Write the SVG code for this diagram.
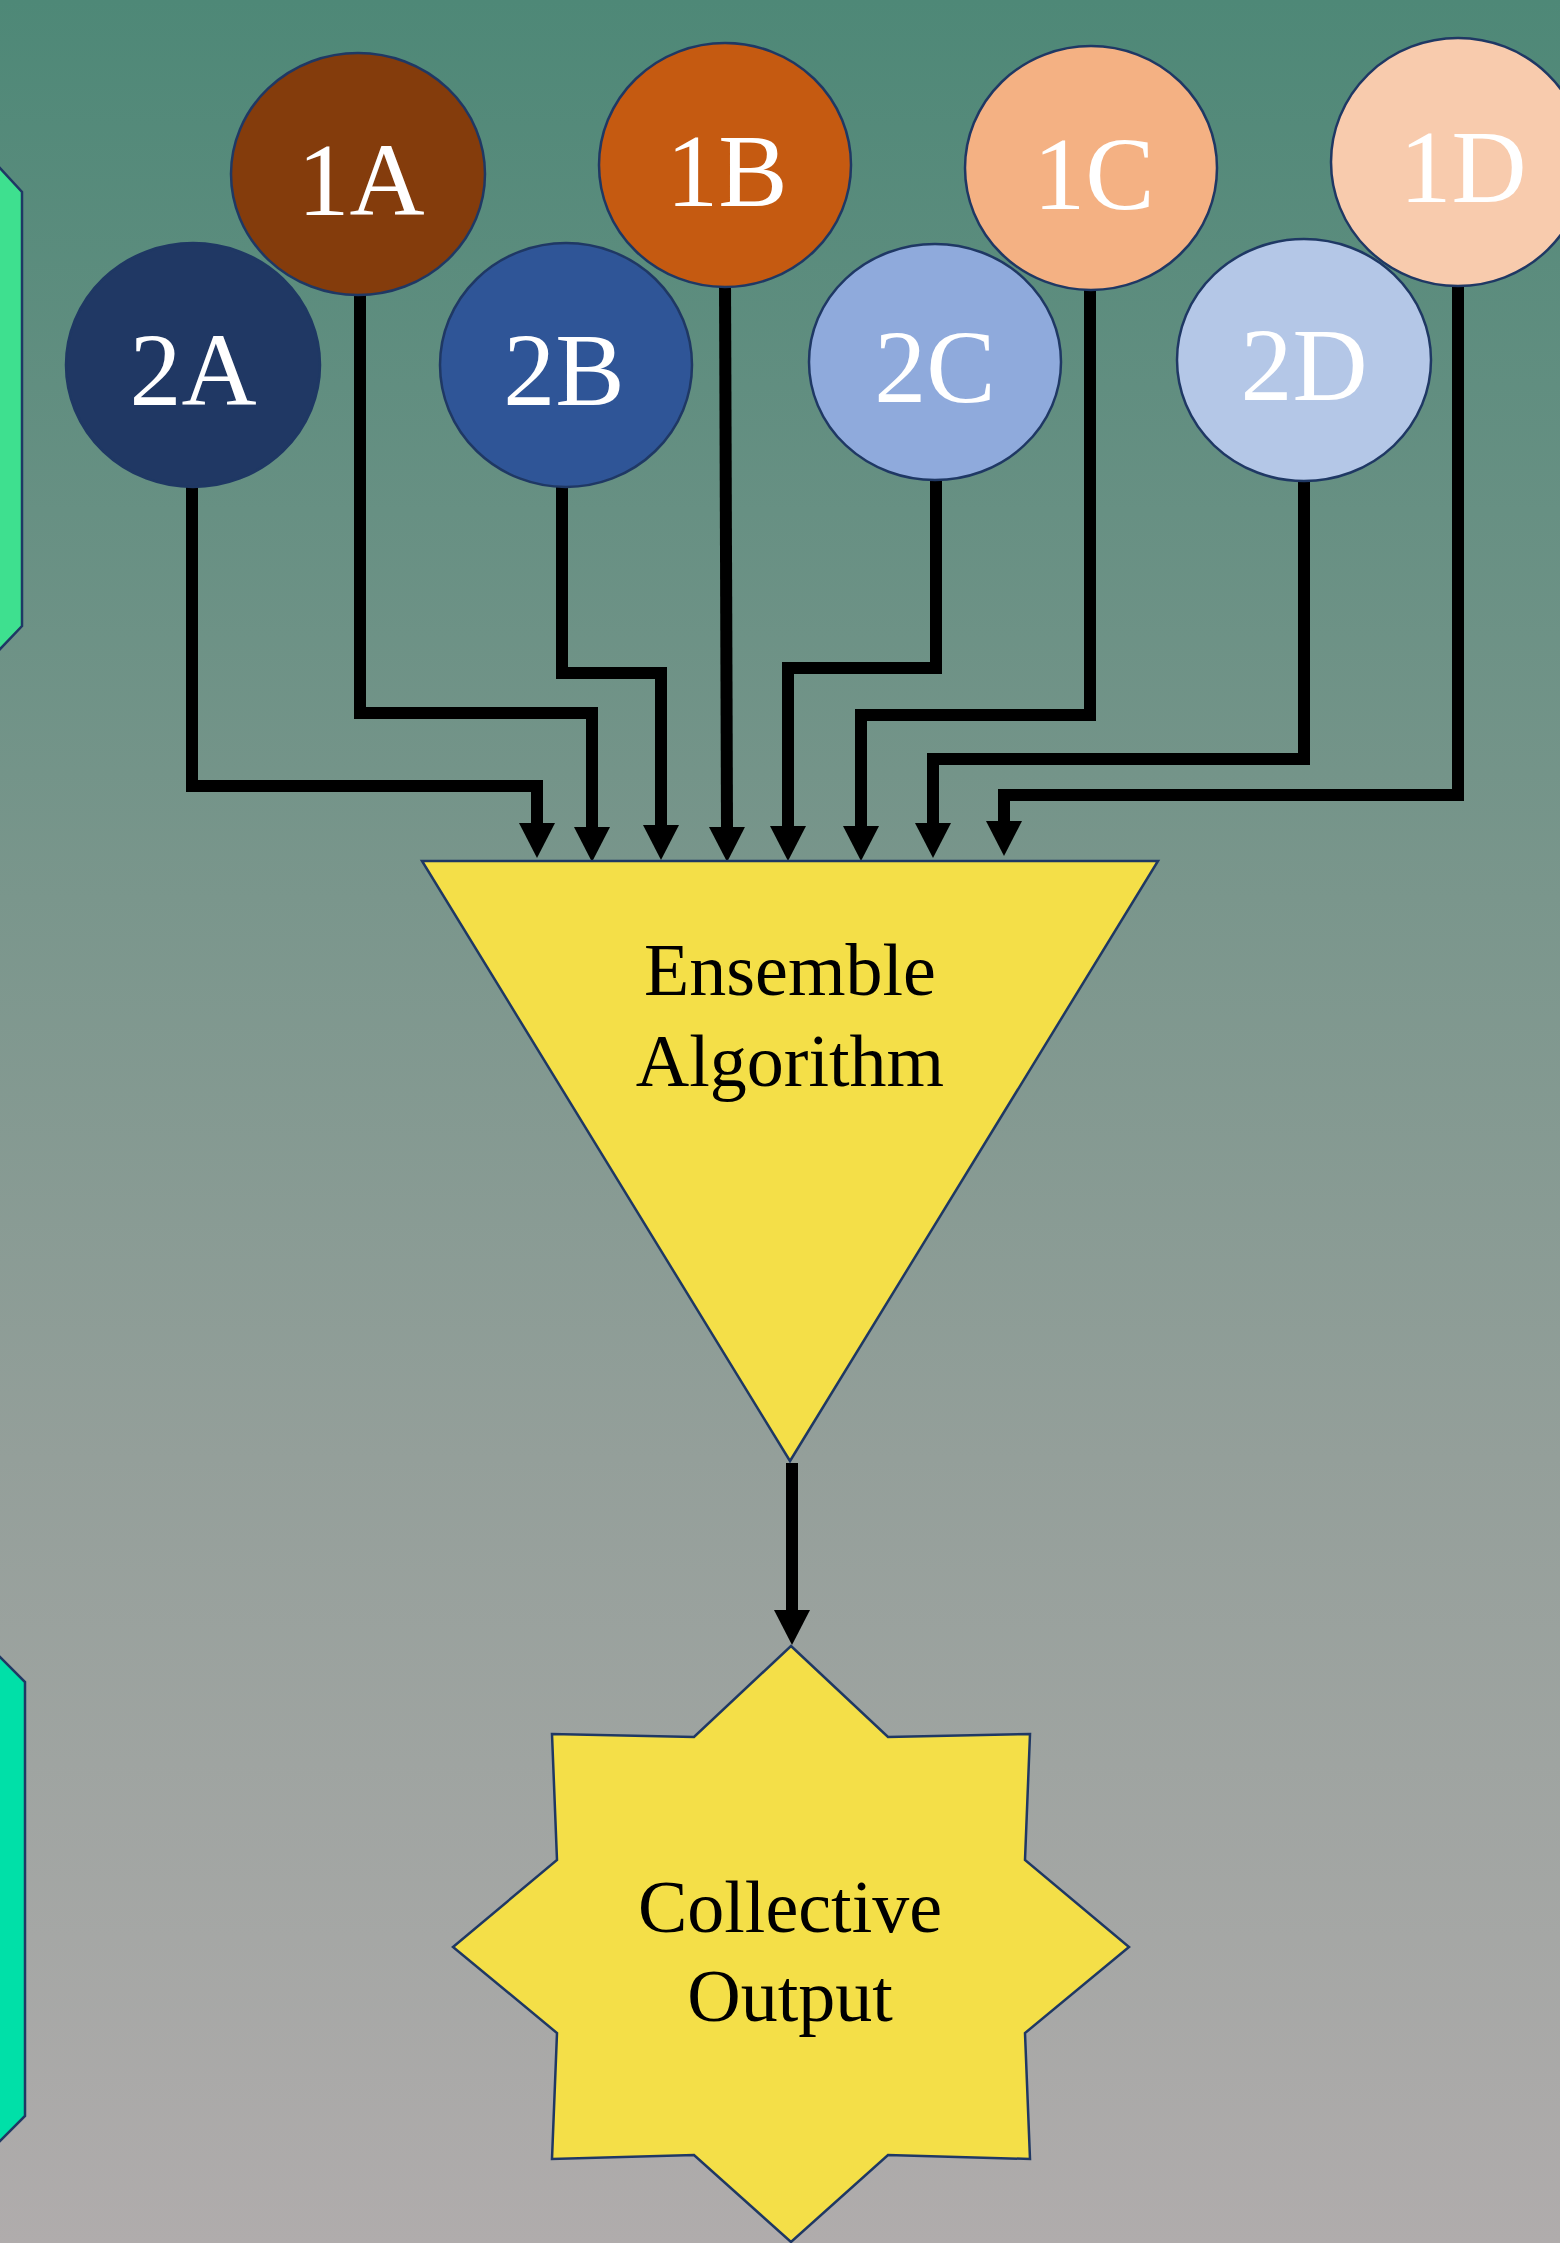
<svg xmlns="http://www.w3.org/2000/svg" width="1560" height="2243" viewBox="0 0 1560 2243">
  <defs>
    <linearGradient id="bg" x1="0" y1="0" x2="0" y2="1">
      <stop offset="0" stop-color="#4e8877"/>
      <stop offset="0.4" stop-color="#7a968c"/>
      <stop offset="0.65" stop-color="#949f9a"/>
      <stop offset="1" stop-color="#b0acac"/>
    </linearGradient>
    <marker id="arrow" markerUnits="userSpaceOnUse" markerWidth="36" markerHeight="36" refX="0" refY="18" orient="auto" viewBox="0 0 36 36">
      <path d="M0,0 L35,18 L0,36 Z" fill="#000"/>
    </marker>
    <style>
      .node { stroke: #1f3864; stroke-width: 2.5; }
      .lbl { font-family: "Liberation Serif", "Times New Roman", serif; font-size: 104px; fill: #ffffff; text-anchor: middle; }
      .txt { font-family: "Liberation Serif", "Times New Roman", serif; font-size: 74px; fill: #000000; text-anchor: middle; }
      .conn { fill: none; stroke: #000; stroke-width: 12; stroke-linejoin: miter; marker-end: url(#arrow); }
      .side { stroke: #1f3864; stroke-width: 2.5; }
    </style>
  </defs>

  <!-- backdrop -->
  <rect x="0" y="0" width="1560" height="2243" fill="url(#bg)"/>

  <!-- side panels, cut by the left border -->
  <polygon class="side" points="-38,127 22,192 22,626 -38,689" fill="#3ee08f"/>
  <polygon class="side" points="-40,1617 25,1682 25,2116 -40,2181" fill="#00e0a8"/>

  <!-- connectors -->
  <g id="connectors">
    <polyline class="conn" points="192,480 192,786 537,786 537,823"/>
    <polyline class="conn" points="360,290 360,713 592,713 592,827"/>
    <polyline class="conn" points="562,480 562,673 661,673 661,825"/>
    <polyline class="conn" points="725,280 727,827"/>
    <polyline class="conn" points="936,475 936,668 788,668 788,826"/>
    <polyline class="conn" points="1090,285 1090,715 861,715 861,826"/>
    <polyline class="conn" points="1304,475 1304,759 933,759 933,823"/>
    <polyline class="conn" points="1458,280 1458,795 1004,795 1004,821"/>
    <polyline class="conn" points="792,1463 792,1610"/>
  </g>

  <!-- first-level models -->
  <g id="n1A">
    <ellipse class="node" cx="358" cy="174" rx="127" ry="121" fill="#843c0c"/>
    <text class="lbl" x="361" y="215">1A</text>
  </g>
  <g id="n1B">
    <ellipse class="node" cx="725" cy="165" rx="126" ry="122" fill="#c55a11"/>
    <text class="lbl" x="727" y="206">1B</text>
  </g>
  <g id="n1C">
    <ellipse class="node" cx="1091" cy="168" rx="126" ry="122" fill="#f4b183"/>
    <text class="lbl" x="1094" y="209">1C</text>
  </g>
  <g id="n1D">
    <ellipse class="node" cx="1458" cy="162" rx="127" ry="124" fill="#f8cbad"/>
    <text class="lbl" x="1463" y="202">1D</text>
  </g>

  <!-- second-level models -->
  <g id="n2A">
    <ellipse class="node" cx="193" cy="365" rx="127" ry="122" fill="#203864"/>
    <text class="lbl" x="193" y="405">2A</text>
  </g>
  <g id="n2B">
    <ellipse class="node" cx="566" cy="365" rx="126" ry="122" fill="#2f5597"/>
    <text class="lbl" x="564" y="405">2B</text>
  </g>
  <g id="n2C">
    <ellipse class="node" cx="935" cy="362" rx="126" ry="118" fill="#8faadc"/>
    <text class="lbl" x="935" y="402">2C</text>
  </g>
  <g id="n2D">
    <ellipse class="node" cx="1304" cy="360" rx="127" ry="121" fill="#b4c7e7"/>
    <text class="lbl" x="1304" y="400">2D</text>
  </g>

  <!-- combiner -->
  <g id="ensemble">
    <polygon class="node" points="422,861 1158,861 790,1461" fill="#f4df48"/>
    <text class="txt" x="790" y="995">Ensemble</text>
    <text class="txt" x="790" y="1086">Algorithm</text>
  </g>

  <!-- result -->
  <g id="output">
    <polygon class="node" fill="#f4df48" points="791,1646 888,1737 1030,1734 1025,1860 1129,1947 1025,2033 1030,2159 888,2155 791,2242 694,2155 552,2159 557,2033 453,1947 557,1860 552,1734 694,1737"/>
    <text class="txt" x="790" y="1932">Collective</text>
    <text class="txt" x="790" y="2021">Output</text>
  </g>
</svg>
